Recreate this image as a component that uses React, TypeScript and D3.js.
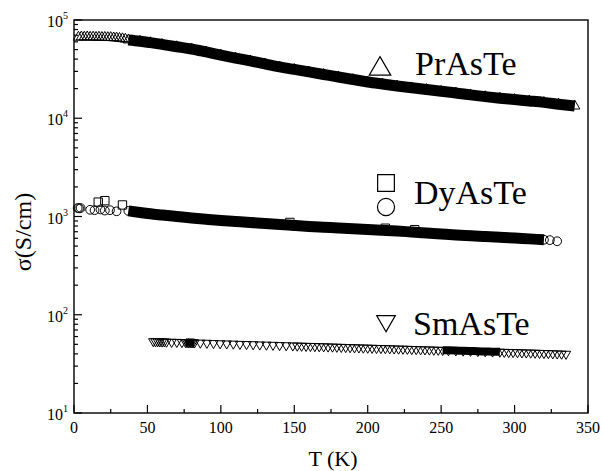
import React from "react";
import * as d3 from "d3";

const W = 603;
const H = 471;
const M = { left: 74, right: 588, top: 20, bottom: 413 };
const FONT = "'Liberation Serif', 'Times New Roman', serif";

// PrAsTe  (open up-triangles; dense part drawn as a solid band)
const prT = [3, 5, 7, 9, 11, 13, 15, 17, 19, 21, 23, 25, 27, 29, 31, 33, 35,
  37, 45, 52, 60, 70, 80, 90, 100, 110, 120, 130, 140, 150, 160, 170, 180, 190, 200,
  210, 220, 230, 240, 250, 260, 270, 280, 290, 300, 310, 320, 330, 341];
const prS = [66800, 67200, 67000, 67300, 66900, 67100, 66700, 66900, 66500, 66600, 66200, 66300, 65800, 65600, 65000, 64500, 63800,
  62600, 60800, 58800, 56400, 53500, 50700, 47300, 44000, 41000, 38300, 35700, 33300, 31400, 29600, 27900, 26300, 24800, 23400,
  22300, 21300, 20400, 19600, 18800, 18100, 17300, 16600, 16000, 15500, 15000, 14500, 13900, 13300];
const prBand = [[37, 341]];

// DyAsTe  (open circles + open squares)
const dyT = [2.5, 3.5, 4.5, 11, 14, 18, 21, 24.5, 29,
  37, 45, 52, 60, 70, 80, 90, 100, 110, 120, 130, 140, 150, 160, 170, 180, 190, 200,
  210, 220, 230, 240, 250, 260, 270, 280, 290, 300, 310, 320, 324, 329];
const dyS = [1220, 1210, 1220, 1170, 1160, 1180, 1150, 1160, 1130,
  1140, 1100, 1065, 1035, 1000, 966, 937, 910, 889, 869, 849, 830, 810, 792, 778, 764, 751, 738,
  725, 712, 695, 679, 663, 648, 637, 626, 615, 604, 592, 580, 575, 560];
const dyBand = [[37, 320]];
const dySqT = [16.5, 21, 33, 147, 212, 232];
const dySqS = [1400, 1450, 1310, 870, 760, 735];

// SmAsTe  (open down-triangles)
const smT = [54, 55.5, 57, 58.5, 60, 61.5, 63, 66.5, 70, 73.5, 76, 77, 78, 79, 80, 81, 82,
  86, 90.5, 95, 99.5, 104, 108.5, 113, 117.5, 122, 126.5, 131, 135.5, 140, 144.5, 149,
  152, 155, 158, 161, 164, 167, 170, 173, 176, 179, 182, 185, 188, 191, 194, 197, 200,
  203, 206, 209, 212, 215, 218, 221, 224, 227, 230, 233, 236, 239, 242, 245, 248,
  251, 255, 260, 265, 270, 275, 280, 285, 290,
  293, 296, 299, 302, 305, 308, 311, 314, 317, 320, 323, 326, 329, 332, 335];
const smS = [53.6, 53.4, 53.5, 53.3, 53.2, 53.3, 53.0, 52.8, 52.7, 52.5, 52.4, 52.3, 52.4, 52.2, 52.2, 52.1, 52.0,
  51.8, 51.6, 51.3, 51.0, 50.8, 50.6, 50.3, 50.1, 49.9, 49.6, 49.4, 49.2, 48.9, 48.7, 48.5,
  48.3, 48.2, 48.0, 47.9, 47.8, 47.6, 47.5, 47.3, 47.2, 47.0, 46.9, 46.7, 46.6, 46.4, 46.3, 46.1, 46.0,
  45.9, 45.7, 45.6, 45.5, 45.3, 45.2, 45.0, 44.9, 44.8, 44.6, 44.5, 44.3, 44.2, 44.1, 43.9, 43.8,
  43.6, 43.4, 43.2, 43.0, 42.8, 42.5, 42.3, 42.1, 41.9,
  41.7, 41.6, 41.5, 41.4, 41.2, 41.1, 41.0, 40.9, 40.7, 40.6, 40.5, 40.3, 40.2, 40.0, 39.9];
const smBand = [[76, 82], [251, 290]];

const xMajor = [0, 50, 100, 150, 200, 250, 300, 350];
const xMinor = [25, 75, 125, 175, 225, 275, 325];
const yExp = [1, 2, 3, 4, 5];

const x = d3.scaleLinear().domain([0, 350]).range([M.left, M.right]);
const y = d3.scaleLog().domain([10, 1e5]).range([M.bottom, M.top]);

const yMinor: number[] = [];
for (let e = 1; e < 5; e++) for (let m = 2; m <= 9; m++) yMinor.push(m * Math.pow(10, e));

const sym = (type: d3.SymbolType, size: number) => d3.symbol().type(type).size(size)() as string;

const line = d3.line<[number, number]>()
  .x((d) => x(d[0]))
  .y((d) => y(d[1]))
  .curve(d3.curveMonotoneX);

const bandPaths = (ts: number[], ss: number[], ranges: number[][]) =>
  ranges.map((r) => {
    const pts = ts.map((t, i) => [t, ss[i]] as [number, number]).filter((p) => p[0] >= r[0] && p[0] <= r[1]);
    return line(pts) as string;
  });

const Markers = ({ ts, ss, d, rot = 0 }: { ts: number[]; ss: number[]; d: string; rot?: number }) => (
  <g fill="none" stroke="#000" strokeWidth={1}>
    {ts.map((t, i) => (
      <path key={i} d={d} transform={`translate(${x(t)},${y(ss[i])}) rotate(${rot})`} />
    ))}
  </g>
);

export default function App() {
  const triUp = sym(d3.symbolTriangle, 45);
  const triDown = sym(d3.symbolTriangle, 38);
  const circ = sym(d3.symbolCircle, 60);
  const sq = sym(d3.symbolSquare, 70);

  return (
    <svg width={W} height={H} style={{ position: "absolute", left: 0, top: 0, background: "#fff" }}
      fontFamily={FONT}>
      {/* bands of densely packed points */}
      <g fill="none" stroke="#000" strokeLinecap="butt">
        {bandPaths(prT, prS, prBand).map((d, i) => <path key={"p" + i} d={d} strokeWidth={11} />)}
        {bandPaths(dyT, dyS, dyBand).map((d, i) => <path key={"d" + i} d={d} strokeWidth={11} />)}
        {bandPaths(smT, smS, smBand).map((d, i) => <path key={"s" + i} d={d} strokeWidth={8} />)}
      </g>

      <Markers ts={prT} ss={prS} d={triUp} />
      <Markers ts={dyT} ss={dyS} d={circ} />
      <Markers ts={dySqT} ss={dySqS} d={sq} />
      <Markers ts={smT} ss={smS} d={triDown} rot={180} />

      {/* frame */}
      <g stroke="#000" fill="none">
        <rect x={M.left} y={M.top} width={M.right - M.left} height={M.bottom - M.top} strokeWidth={1.4} />
        {xMajor.map((v) => <line key={"xm" + v} x1={x(v)} x2={x(v)} y1={M.bottom} y2={M.bottom - 8} strokeWidth={1.2} />)}
        {xMinor.map((v) => <line key={"xn" + v} x1={x(v)} x2={x(v)} y1={M.bottom} y2={M.bottom - 4} strokeWidth={1.2} />)}
        {yExp.map((e) => <line key={"ym" + e} x1={M.left} x2={M.left + 8} y1={y(Math.pow(10, e))} y2={y(Math.pow(10, e))} strokeWidth={1.2} />)}
        {yMinor.map((v) => <line key={"yn" + v} x1={M.left} x2={M.left + 4} y1={y(v)} y2={y(v)} strokeWidth={1.2} />)}
      </g>

      {/* tick labels */}
      <g fontSize={16} fill="#000">
        {xMajor.map((v) => (
          <text key={"xl" + v} x={x(v)} y={M.bottom + 20} textAnchor="middle">{v}</text>
        ))}
        {yExp.map((e) => (
          <text key={"yl" + e} x={68} y={y(Math.pow(10, e)) + 7} textAnchor="end">
            10<tspan fontSize={10} dy={-8}>{e}</tspan>
          </text>
        ))}
      </g>

      {/* axis titles */}
      <text x={(M.left + M.right) / 2 + 2} y={466} textAnchor="middle" fontSize={22}>T (K)</text>
      <text transform="translate(31,232) rotate(-90)" textAnchor="middle" fontSize={24}>σ(S/cm)</text>

      {/* legend */}
      <g fill="none" stroke="#000" strokeWidth={1.2}>
        <path d={sym(d3.symbolTriangle, 200)} transform="translate(380,69)" />
        <path d={sym(d3.symbolSquare, 280)} transform="translate(386,183)" />
        <path d={sym(d3.symbolCircle, 230)} transform="translate(386,207)" />
        <path d={sym(d3.symbolTriangle, 150)} transform="translate(386,321) rotate(180)" />
      </g>
      <g fontSize={34} fill="#000">
        <text x={415} y={75}>PrAsTe</text>
        <text x={414} y={204}>DyAsTe</text>
        <text x={413} y={335}>SmAsTe</text>
      </g>
    </svg>
  );
}
